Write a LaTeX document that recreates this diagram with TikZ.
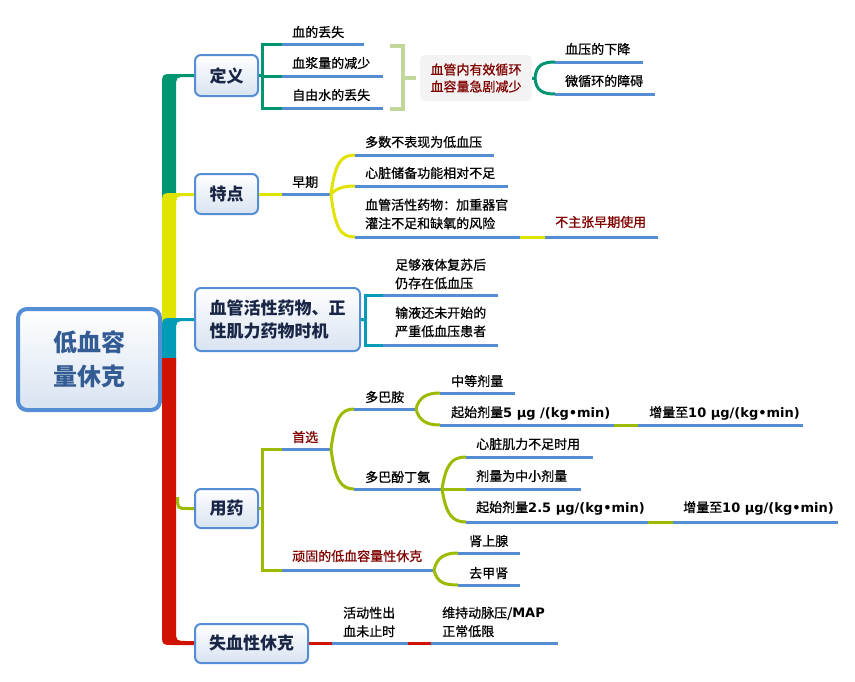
\documentclass[tikz,border=0pt]{standalone}
\usepackage{fontspec}
\setmainfont{Noto Sans CJK SC}
\newfontfamily\lvtwo{Noto Sans CJK SC}[FakeBold=0.8]
\newfontfamily\latb{DejaVu Sans Bold}
\newcommand{\lt}[1]{{\latb #1}}
\definecolor{cgreen}{RGB}{0,150,114}
\definecolor{cyellow}{RGB}{224,228,0}
\definecolor{cteal}{RGB}{0,155,182}
\definecolor{cred}{RGB}{208,18,0}
\definecolor{colive}{RGB}{155,187,0}
\definecolor{clight}{RGB}{196,215,155}
\definecolor{cblue}{RGB}{84,141,212}
\definecolor{cborder}{RGB}{85,142,213}
\definecolor{cfill}{RGB}{216,227,241}
\definecolor{cnavy}{RGB}{25,38,70}
\definecolor{croot}{RGB}{52,92,148}
\definecolor{cdred}{RGB}{128,0,0}
\definecolor{cgreybox}{RGB}{243,243,243}
\tikzset{
  lvone/.style={draw=cborder, line width=2pt, rounded corners=6pt, top color=white, bottom color=cfill,
    text=cnavy, font=\fontsize{17}{23}\selectfont\bfseries, inner sep=0pt, align=left},
  txt/.style={anchor=west, inner sep=0pt, font=\lvtwo\fontsize{13}{18.5}\selectfont, align=left},
  rtxt/.style={txt, text=cdred},
  uline/.style={cblue, line width=3pt},
  conn/.style={line width=3pt},
}
\begin{document}
\begin{tikzpicture}[x=1pt,y=-1pt]
\useasboundingbox[fill=white] (0,0) rectangle (855,681);

% root
\node[draw=cborder, line width=4pt, rounded corners=9pt, top color=white, bottom color=cfill,
  minimum width=142pt, minimum height=101pt, text=croot,
  font=\fontsize{24}{34}\selectfont\bfseries, align=center] (root) at (89,359.5) {低血容\\量休克};

% trunk
\fill[cgreen] (162,200) -- (162,86) .. controls (162,74) .. (174,74) -- (195,74) -- (195,77) -- (187,77) .. controls (176,77) .. (176,88) -- (176,200) -- cycle;
\fill[cyellow] (162,330) -- (162,205) .. controls (162,193) .. (174,193) -- (195,193) -- (195,196) -- (187,196) .. controls (176,196) .. (176,207) -- (176,330) -- cycle;
\fill[cteal] (162,366) -- (162,330) .. controls (162,318) .. (174,318) -- (195,318) -- (195,321) -- (187,321) .. controls (176,321) .. (176,332) -- (176,366) -- cycle;
\fill[cred] (162,358) -- (162,633) .. controls (162,645) .. (174,645) -- (195,645) -- (195,641) -- (187,641) .. controls (176,641) .. (176,630) -- (176,358) -- cycle;
\draw[colive, conn] (177.5,497) .. controls (177.5,508.5) .. (188,508.5) -- (195,508.5);

% level one boxes
\node[lvone, minimum width=63pt, minimum height=41pt] (dy) at (226.5,75.5) {定义};
\node[lvone, minimum width=63pt, minimum height=40pt] (td) at (226.5,194) {特点};
\node[lvone, minimum width=165pt, minimum height=63pt] (xg) at (277.5,319.5) {血管活性药物、正\\性肌力药物时机};
\node[lvone, minimum width=63pt, minimum height=39pt] (yy) at (226.5,508.5) {用药};
\node[lvone, minimum width=113pt, minimum height=39pt] (sx) at (251.5,643.5) {失血性休克};

% ---- 定义
\draw[cgreen, conn] (dy.east) -- (262,75.5);
\draw[cgreen, conn] (282,44) -- (262,44) -- (262,108) -- (282,108);
\draw[cgreen, conn] (262,76) -- (282,76);
\draw[uline] (282,44) -- (364,44);
\draw[uline] (282,76) -- (383,76);
\draw[uline] (282,108) -- (383,108);
\node[txt] (d1) at (292,32) {血的丢失};
\node[txt] (d2) at (292,63) {血浆量的减少};
\node[txt] (d3) at (292,95) {自由水的丢失};
\draw[clight, line width=4pt] (390,46) -- (403,46) -- (403,109) -- (390,109);
\draw[clight, line width=4pt] (403,78) -- (416,78);
\node[fill=cgreybox, rounded corners=5pt, minimum width=112pt, minimum height=46pt, inner sep=0pt,
  text=cdred, font=\lvtwo\fontsize{13}{17}\selectfont, align=center] (dbox) at (476,78) {血管内有效循环\\血容量急剧减少};
\draw[cgreen, conn] (dbox.east) -- (535,78);
\draw[cgreen, conn] (535,78) .. controls (536,65) and (543,62) .. (555,62);
\draw[cgreen, conn] (535,78) .. controls (536,91) and (543,94) .. (555,94);
\draw[uline] (555,62) -- (643,62);
\draw[uline] (555,94) -- (655,94);
\node[txt] (d4) at (565,49) {血压的下降};
\node[txt] (d5) at (565,81) {微循环的障碍};

% ---- 特点
\draw[cyellow, conn] (td.east) -- (282,194);
\draw[uline] (282,194) -- (332,194);
\node[txt] (t0) at (292,182) {早期};
\draw[cyellow, conn] (331,194) .. controls (335,163) and (341,155) .. (355,155);
\draw[cyellow, conn] (331,194) .. controls (337,188) and (344,186) .. (355,186);
\draw[cyellow, conn] (331,194) .. controls (335,229) and (341,237) .. (355,237);
\draw[uline] (355,155) -- (494,155);
\draw[uline] (355,186) -- (508,186);
\draw[uline] (355,237) -- (520,237);
\draw[cyellow, conn] (520,237) -- (545,237);
\draw[uline] (545,237) -- (658,237);
\node[txt] (t1) at (365,142) {多数不表现为低血压};
\node[txt] (t2) at (365,173) {心脏储备功能相对不足};
\node[txt] (t3) at (365,214) {血管活性药物：加重器官\\灌注不足和缺氧的风险};
\node[rtxt] (t4) at (555,222) {不主张早期使用};

% ---- 血管活性
\draw[cteal, conn] (xg.east) -- (365,320);
\draw[cteal, conn] (383,295) -- (365,295) -- (365,345) -- (383,345);
\draw[uline] (383,295) -- (498,295);
\draw[uline] (383,345) -- (498,345);
\node[txt] (x1) at (395,274) {足够液体复苏后\\仍存在低血压};
\node[txt] (x2) at (395,322) {输液还未开始的\\严重低血压患者};

% ---- 用药
\draw[colive, conn] (yy.east) -- (262,508.5);
\draw[colive, conn] (282,449) -- (262,449) -- (262,570) -- (282,570);
\draw[uline] (282,449) -- (332,449);
\draw[uline] (282,570) -- (435,570);
\node[rtxt] (y1) at (292,437) {首选};
\node[rtxt] (y2) at (292,556) {顽固的低血容量性休克};
\draw[colive, conn] (331,449) .. controls (335,418) and (341,409) .. (354,409);
\draw[colive, conn] (331,449) .. controls (335,480) and (341,489) .. (354,489);
\draw[uline] (354,409) -- (417,409);
\draw[uline] (354,489) -- (443,489);
\node[txt] (y3) at (365,397) {多巴胺};
\node[txt] (y4) at (365,477) {多巴酚丁氨};
\draw[colive, conn] (416,409) .. controls (419,397) and (427,393) .. (440,393);
\draw[colive, conn] (416,409) .. controls (419,421) and (427,425) .. (440,425);
\draw[uline] (440,393) -- (515,393);
\draw[uline] (440,425) -- (614,425);
\draw[colive, conn] (614,425) -- (638,425);
\draw[uline] (638,425) -- (803,425);
\node[txt] (y5) at (451,381) {中等剂量};
\node[txt] (y6) at (451,413) {起始剂量\lt{5 μg /(kg•min)}};
\node[txt] (y7) at (649,413) {增量至\lt{10 μg/(kg•min)}};
\draw[colive, conn] (442,489) .. controls (446,464) and (452,457) .. (466,457);
\draw[colive, conn] (442,489) -- (466,489);
\draw[colive, conn] (442,489) .. controls (446,514) and (452,522) .. (466,522);
\draw[uline] (466,457) -- (593,457);
\draw[uline] (466,489) -- (581,489);
\draw[uline] (466,522) -- (648,522);
\draw[colive, conn] (648,522) -- (673,522);
\draw[uline] (673,522) -- (838,522);
\node[txt] (y8) at (476,444) {心脏肌力不足时用};
\node[txt] (y9) at (476,476) {剂量为中小剂量};
\node[txt] (y10) at (476,508) {起始剂量\lt{2.5 μg/(kg•min)}};
\node[txt] (y11) at (683,508) {增量至\lt{10 μg/(kg•min)}};
\draw[colive, conn] (434,570) .. controls (437,557) and (445,553) .. (458,553);
\draw[colive, conn] (434,570) .. controls (437,583) and (445,585) .. (458,585);
\draw[uline] (458,553) -- (520,553);
\draw[uline] (458,585) -- (520,585);
\node[txt] (y12) at (469,541) {肾上腺};
\node[txt] (y13) at (469,573) {去甲肾};

% ---- 失血性休克
\draw[cred, conn] (sx.east) -- (332,643.5);
\draw[uline] (332,643.5) -- (408,643.5);
\draw[cred, conn] (408,643.5) -- (431,643.5);
\draw[uline] (431,643.5) -- (558,643.5);
\node[txt] (s1) at (343,622) {活动性出\\血未止时};
\node[txt] (s2) at (442,622) {维持动脉压/\lt{MAP}\\正常低限};
\end{tikzpicture}
\end{document}
